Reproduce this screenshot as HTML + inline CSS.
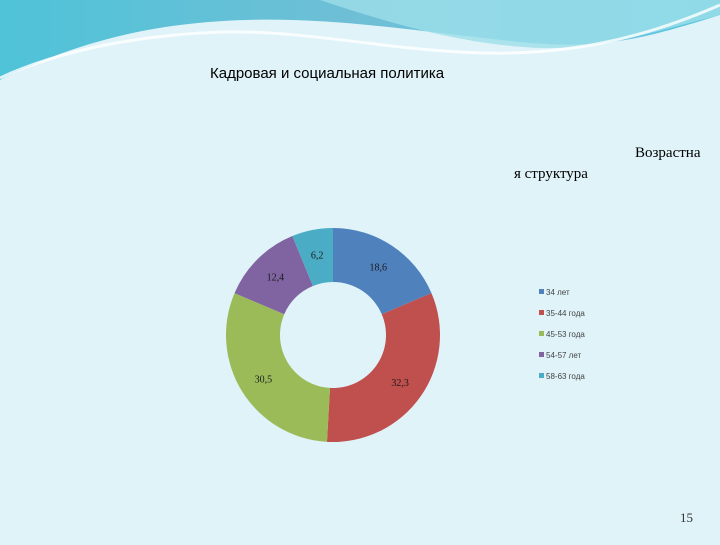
<!DOCTYPE html>
<html><head><meta charset="utf-8"><style>
body{margin:0;width:720px;height:540px;overflow:hidden;background:#dff3f9;font-family:"Liberation Sans",sans-serif}
</style></head><body>
<svg width="720" height="540">
<defs>
<linearGradient id="g1" x1="0" y1="0" x2="1" y2="0"><stop offset="0" stop-color="#4fc3d8"/><stop offset="0.5" stop-color="#6fbfd6"/><stop offset="1" stop-color="#5cc6e0"/></linearGradient>
</defs>
<rect width="720" height="540" fill="#dff3f9"/>
<path d="M0 0H720V15C640 40 600 50 520 42C400 30 300 10 180 25C100 35 40 60 0 80Z" fill="url(#g1)"/>
<path d="M320 0C380 20 460 45 540 48C600 50 660 30 720 15V0Z" fill="#9ddfea" opacity="0.8"/>
<path d="M0 78C60 50 140 35 220 32C300 30 380 48 460 52C560 58 640 40 720 5" fill="none" stroke="#ffffff" stroke-width="3" opacity="0.8"/>
<text x="210" y="78" font-size="15" fill="#000">Кадровая и социальная политика</text>
<text x="635" y="157" font-family="Liberation Serif" font-size="15" fill="#000">Возрастна</text>
<text x="514" y="178" font-family="Liberation Serif" font-size="15" fill="#000">я структура</text>
<g id="chart"></g>
<g id="legend"></g>
<text x="680" y="522" font-family="Liberation Serif" font-size="13" fill="#333">15</text>
</svg>
<script>
const categories=["34 лет","35-44 года","45-53 года","54-57 лет","58-63 года"];
const values=[18.6,32.3,30.5,12.4,6.2];
const labels=["18,6","32,3","30,5","12,4","6,2"];
const colors=["#4f81bd","#c0504d","#9bbb59","#8064a2","#4bacc6"];
const ns="http://www.w3.org/2000/svg";
const cx=333,cy=335,R=107,r=53,LR=82;
const total=values.reduce((a,b)=>a+b,0);
const g=document.getElementById('chart');
function pt(a,rad){return [cx+rad*Math.sin(a),cy-rad*Math.cos(a)];}
let acc=0;
values.forEach((v,i)=>{
 const a0=acc/total*2*Math.PI;acc+=v;const a1=acc/total*2*Math.PI;
 const big=(a1-a0)>Math.PI?1:0;
 const [x0,y0]=pt(a0,R),[x1,y1]=pt(a1,R),[x2,y2]=pt(a1,r),[x3,y3]=pt(a0,r);
 const p=document.createElementNS(ns,'path');
 p.setAttribute('d',`M${x0} ${y0}A${R} ${R} 0 ${big} 1 ${x1} ${y1}L${x2} ${y2}A${r} ${r} 0 ${big} 0 ${x3} ${y3}Z`);
 p.setAttribute('fill',colors[i]);
 
 
 g.appendChild(p);
 const [lx,ly]=pt((a0+a1)/2,LR);
 const t=document.createElementNS(ns,'text');
 t.setAttribute('x',lx);t.setAttribute('y',ly+4);
 t.setAttribute('text-anchor','middle');t.setAttribute('font-size','10');t.setAttribute('fill','#1a1a1a');
 t.setAttribute('font-family','Liberation Serif');
 t.textContent=labels[i];
 
 
 g.appendChild(t);
});
const lg=document.getElementById('legend');
categories.forEach((c,i)=>{
 const y=293+i*21;
 const s=document.createElementNS(ns,'rect');
 s.setAttribute('x',539);s.setAttribute('y',y-4);s.setAttribute('width',5);s.setAttribute('height',5);s.setAttribute('fill',colors[i]);
 
 
 lg.appendChild(s);
 const t=document.createElementNS(ns,'text');
 t.setAttribute('x',546);t.setAttribute('y',y+2);t.setAttribute('font-size','8');t.setAttribute('fill','#444');
 t.textContent=c;
 
 
 lg.appendChild(t);
});
</script>
</body></html>
